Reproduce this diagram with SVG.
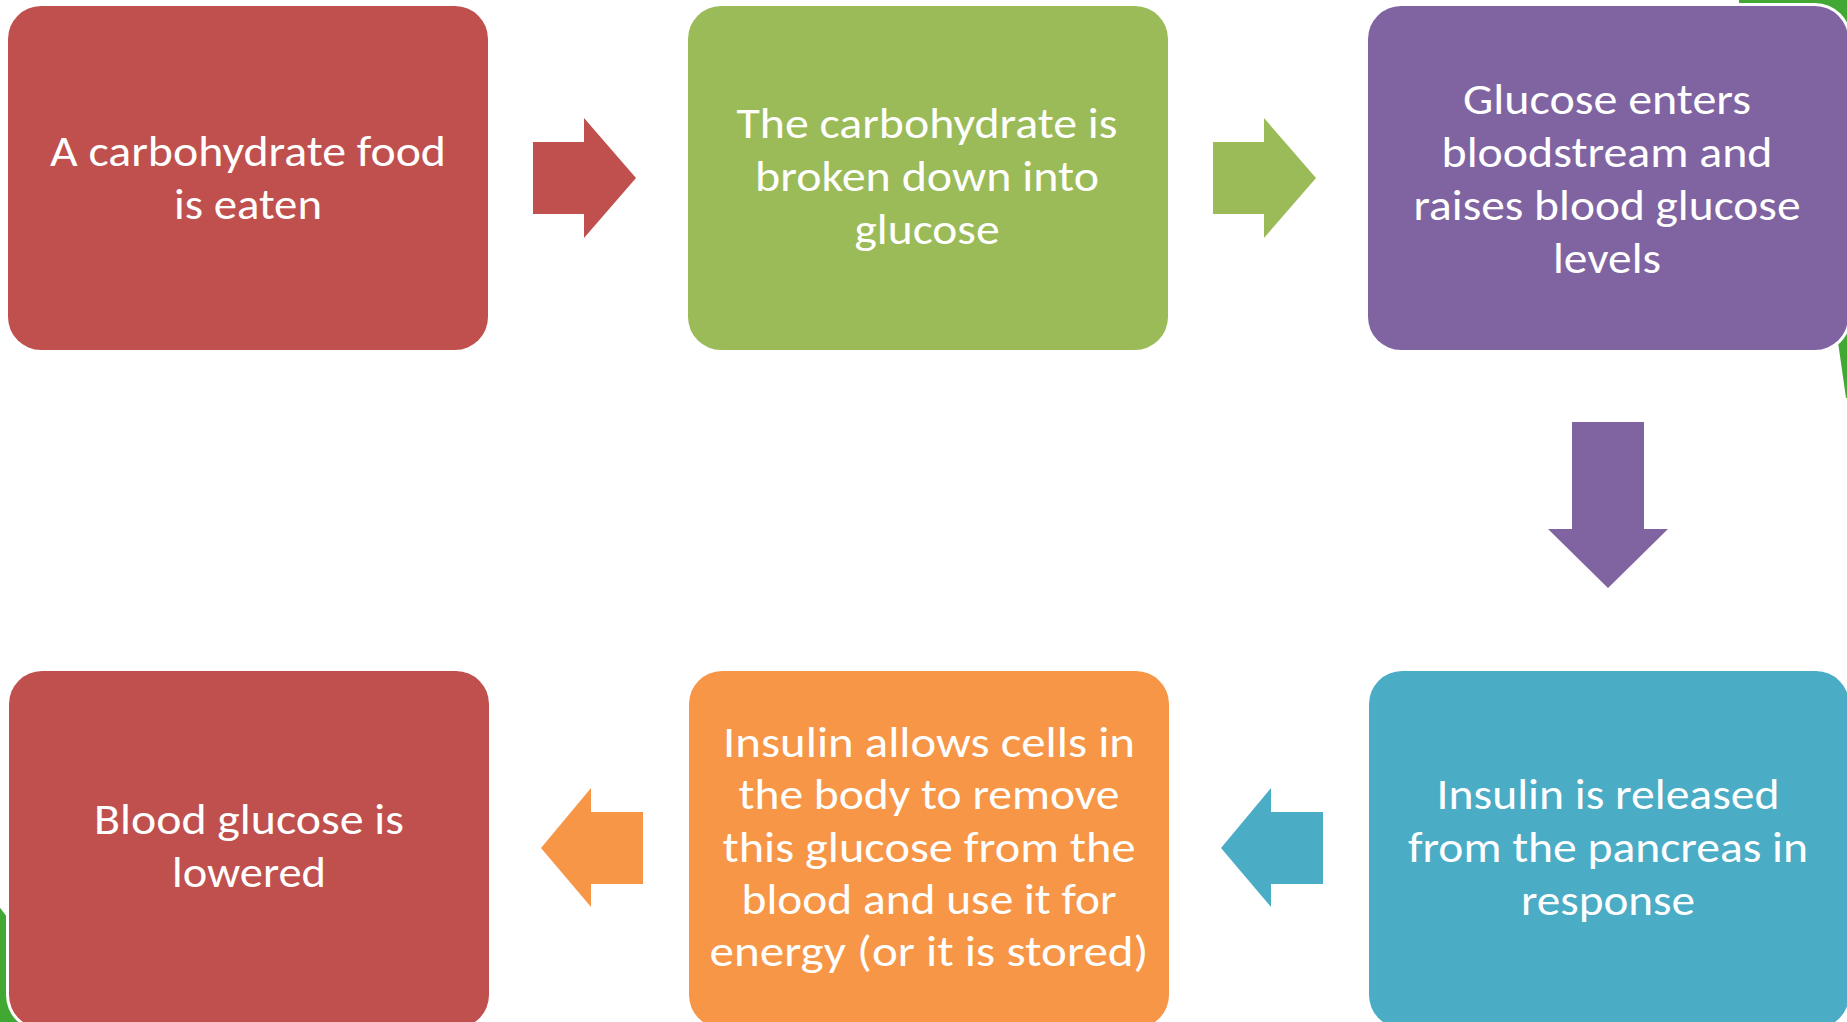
<svg xmlns="http://www.w3.org/2000/svg" width="1847" height="1022" viewBox="0 0 1847 1022">
<style>
.halo{fill:#fff}
.t{font-family:Carlito,Lato,"Liberation Sans",sans-serif;font-size:43px;fill:#fff;text-anchor:middle}
</style>
<rect width="1847" height="1022" fill="#fff"/>
<g id="cycle-arrow" fill="#41A834">
<path d="M1739,-5 H1870 V398 H1846 L1832,300 H1739 Z"/>
<path d="M-5,901 L7,917 L60,1040 H-5 Z"/>
</g>
<g id="n1"><rect x="8" y="6" width="480" height="344" rx="33" fill="#C0504D"/>
<text class="t" lengthAdjust="spacingAndGlyphs"><tspan x="248" y="166" textLength="396" lengthAdjust="spacingAndGlyphs">A carbohydrate food</tspan><tspan x="248" y="219" textLength="148" lengthAdjust="spacingAndGlyphs">is eaten</tspan></text></g>
<g id="n2"><rect x="688" y="6" width="480" height="344" rx="33" fill="#9BBB59"/>
<text class="t"><tspan x="927" y="138" textLength="381" lengthAdjust="spacingAndGlyphs">The carbohydrate is</tspan><tspan x="927" y="191" textLength="344" lengthAdjust="spacingAndGlyphs">broken down into</tspan><tspan x="927" y="244" textLength="145" lengthAdjust="spacingAndGlyphs">glucose</tspan></text></g>
<g id="n3"><rect class="halo" x="1365" y="3" width="486" height="350" rx="36"/><rect x="1368" y="6" width="480" height="344" rx="33" fill="#8064A2"/>
<text class="t"><tspan x="1607" y="114" textLength="288" lengthAdjust="spacingAndGlyphs">Glucose enters</tspan><tspan x="1607" y="167" textLength="331" lengthAdjust="spacingAndGlyphs">bloodstream and</tspan><tspan x="1607" y="220" textLength="387" lengthAdjust="spacingAndGlyphs">raises blood glucose</tspan><tspan x="1607" y="273" textLength="108" lengthAdjust="spacingAndGlyphs">levels</tspan></text></g>
<g id="n4"><rect x="1369" y="671" width="480" height="357" rx="33" fill="#4BACC6"/>
<text class="t"><tspan x="1608" y="809" textLength="343" lengthAdjust="spacingAndGlyphs">Insulin is released</tspan><tspan x="1608" y="862" textLength="400" lengthAdjust="spacingAndGlyphs">from the pancreas in</tspan><tspan x="1608" y="915" textLength="174" lengthAdjust="spacingAndGlyphs">response</tspan></text></g>
<g id="n5"><rect x="689" y="671" width="480" height="357" rx="33" fill="#F79646"/>
<text class="t"><tspan x="929" y="757" textLength="412" lengthAdjust="spacingAndGlyphs">Insulin allows cells in</tspan><tspan x="929" y="809" textLength="381" lengthAdjust="spacingAndGlyphs">the body to remove</tspan><tspan x="929" y="862" textLength="413" lengthAdjust="spacingAndGlyphs">this glucose from the</tspan><tspan x="929" y="914" textLength="375" lengthAdjust="spacingAndGlyphs">blood and use it for</tspan><tspan x="929" y="966" textLength="439" lengthAdjust="spacingAndGlyphs">energy (or it is stored)</tspan></text></g>
<g id="n6"><rect class="halo" x="6" y="668" width="486" height="363" rx="36"/><rect x="9" y="671" width="480" height="357" rx="33" fill="#C0504D"/>
<text class="t"><tspan x="249" y="834" textLength="310" lengthAdjust="spacingAndGlyphs">Blood glucose is</tspan><tspan x="249" y="887" textLength="154" lengthAdjust="spacingAndGlyphs">lowered</tspan></text></g>
<g id="connectors">
<polygon points="533,142 584,142 584,118 636,178 584,238 584,214 533,214" fill="#C0504D"/>
<polygon points="1213,142 1264,142 1264,118 1316,178 1264,238 1264,214 1213,214" fill="#9BBB59"/>
<polygon points="1572,422 1644,422 1644,529 1668,529 1608,588 1548,529 1572,529" fill="#8064A2"/>
<polygon points="1323,812 1271,812 1271,788 1221,848 1271,907 1271,884 1323,884" fill="#4BACC6"/>
<polygon points="643,812 591,812 591,788 541,848 591,907 591,884 643,884" fill="#F79646"/>
</g>
</svg>
